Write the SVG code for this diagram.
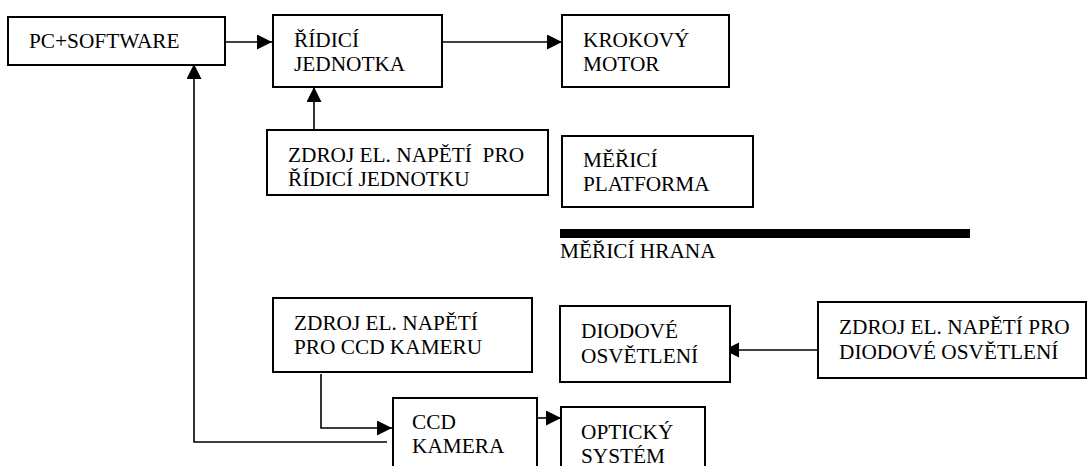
<svg xmlns="http://www.w3.org/2000/svg" width="1088" height="466" viewBox="0 0 1088 466">
<style>
.box{fill:#fff;stroke:#000;stroke-width:2}
.t{font-family:"Liberation Serif","Times New Roman",serif;font-size:21.3px;fill:#000;white-space:pre}
.c{fill:none;stroke:#000;stroke-width:1.6}
</style>
<defs>
<marker id="ah" markerUnits="userSpaceOnUse" markerWidth="16" markerHeight="16" refX="15" refY="7.5" orient="auto">
<path d="M0,0 L15,7.5 L0,15 Z" fill="#000"/>
</marker>
</defs>
<rect width="1088" height="466" fill="#fff"/>
<g id="connectors">
<line class="c" x1="225" y1="42" x2="272" y2="42" marker-end="url(#ah)"/>
<line class="c" x1="442" y1="42" x2="562" y2="42" marker-end="url(#ah)"/>
<line class="c" x1="314" y1="130" x2="314" y2="87" marker-end="url(#ah)"/>
<line class="c" x1="818" y1="350" x2="724" y2="350" marker-end="url(#ah)"/>
<path class="c" d="M321,374 V428 H392" marker-end="url(#ah)"/>
<path class="c" d="M387,442 H194 V64" marker-end="url(#ah)"/>
<line class="c" x1="537" y1="418" x2="561" y2="418" marker-end="url(#ah)"/>
</g>
<g id="pc">
<rect class="box" x="8" y="17" width="217" height="48"/>
<text class="t" x="29" y="48">PC+SOFTWARE</text>
</g>
<g id="ridici">
<rect class="box" x="273" y="15" width="169" height="72"/>
<text class="t" x="294" y="47">ŘÍDICÍ</text>
<text class="t" x="294" y="71">JEDNOTKA</text>
</g>
<g id="krokovy">
<rect class="box" x="562" y="15" width="167" height="72"/>
<text class="t" x="583" y="47">KROKOVÝ</text>
<text class="t" x="583" y="71">MOTOR</text>
</g>
<g id="zdroj-ridici">
<rect class="box" x="267" y="130" width="281" height="65"/>
<text class="t" x="288" y="162">ZDROJ EL. NAPĚTÍ  PRO</text>
<text class="t" x="288" y="186">ŘÍDICÍ JEDNOTKU</text>
</g>
<g id="meridi-platforma">
<rect class="box" x="562" y="136" width="191" height="71"/>
<text class="t" x="583" y="167">MĚŘICÍ</text>
<text class="t" x="583" y="191">PLATFORMA</text>
</g>
<g id="merici-hrana">
<rect x="560" y="229" width="410" height="9" fill="#000"/>
<text class="t" x="560" y="258">MĚŘICÍ HRANA</text>
</g>
<g id="zdroj-ccd">
<rect class="box" x="273" y="298" width="259" height="74"/>
<text class="t" x="294" y="330">ZDROJ EL. NAPĚTÍ</text>
<text class="t" x="294" y="354">PRO CCD KAMERU</text>
</g>
<g id="diodove">
<rect class="box" x="560" y="306" width="170" height="76"/>
<text class="t" x="581" y="338">DIODOVÉ</text>
<text class="t" x="581" y="363">OSVĚTLENÍ</text>
</g>
<g id="zdroj-diodove">
<rect class="box" x="818" y="302" width="268" height="76"/>
<text class="t" x="839" y="334">ZDROJ EL. NAPĚTÍ PRO</text>
<text class="t" x="839" y="359">DIODOVÉ OSVĚTLENÍ</text>
</g>
<g id="ccd">
<rect class="box" x="393" y="398" width="144" height="90"/>
<text class="t" x="412" y="429">CCD</text>
<text class="t" x="412" y="453">KAMERA</text>
</g>
<g id="opticky">
<rect class="box" x="561" y="407" width="144" height="80"/>
<text class="t" x="581" y="439">OPTICKÝ</text>
<text class="t" x="581" y="463">SYSTÉM</text>
</g>
</svg>
